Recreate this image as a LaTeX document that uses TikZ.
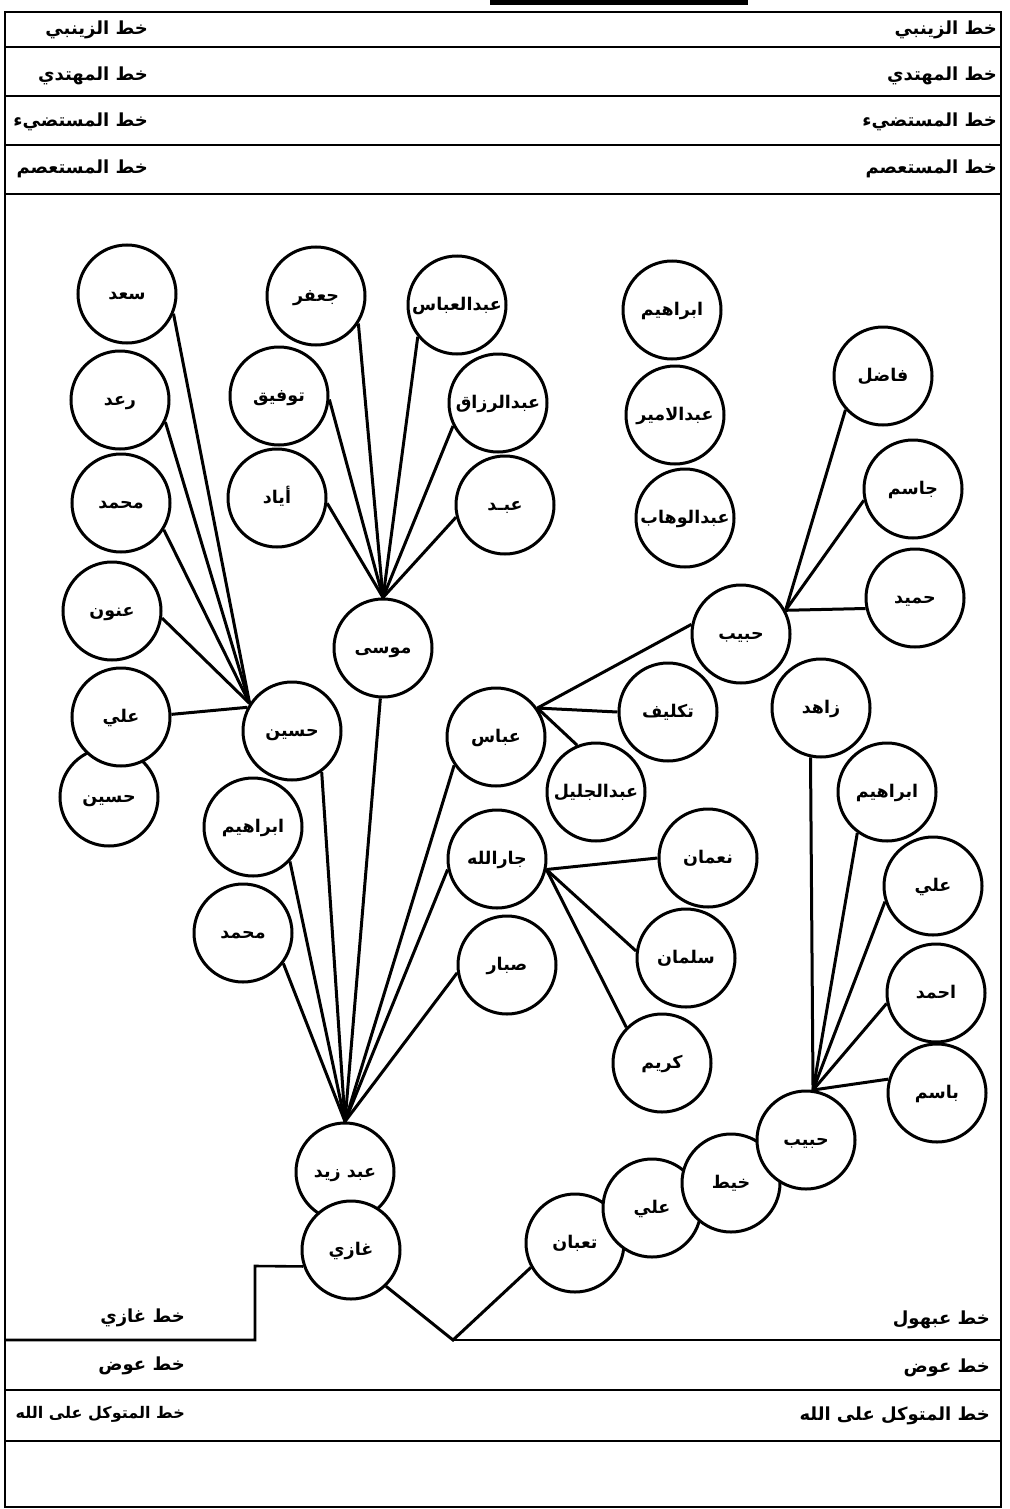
\documentclass[tikz,border=0pt]{standalone}
\usepackage{fontspec}
\newfontfamily\arabicfont[Script=Arabic]{DejaVu Sans}
\TeXXeTstate=1
\newcommand\artx[1]{\beginR #1\endR}
\begin{document}
\begin{tikzpicture}[x=1pt,y=-1pt,
  pers/.style={circle,draw,line width=3pt,fill=white,minimum size=98pt,inner sep=0pt,
    text height=10pt,text depth=0pt,
    font=\arabicfont\bfseries\fontsize{17.5}{20}\selectfont},
  conn/.style={line width=3pt},
  lab/.style={anchor=east,inner sep=0pt,font=\arabicfont\bfseries\fontsize{18}{21}\selectfont},
  smalllab/.style={lab,font=\arabicfont\bfseries\fontsize{16}{19}\selectfont},
  frame/.style={line width=2.6pt}]
\useasboundingbox (0,0) rectangle (1009,1509);
% frame and bands
\draw[frame] (5,12) rectangle (1001,1507);
\draw[line width=5pt] (490,3) -- (748,3);
\draw[frame] (5,47) -- (1001,47);
\draw[frame] (5,96) -- (1001,96);
\draw[frame] (5,145) -- (1001,145);
\draw[frame] (5,194) -- (1001,194);
\draw[frame] (5,1390) -- (1001,1390);
\draw[frame] (5,1441) -- (1001,1441);
% band labels
\node[lab] (l1) at (148,30) {\artx{خط الزينبي}};
\node[lab] (r1) at (997,30) {\artx{خط الزينبي}};
\node[lab] (l2) at (148,76) {\artx{خط المهتدي}};
\node[lab] (r2) at (997,76) {\artx{خط المهتدي}};
\node[lab] (l3) at (148,122) {\artx{خط المستضيء}};
\node[lab] (r3) at (997,122) {\artx{خط المستضيء}};
\node[lab] (l4) at (148,169) {\artx{خط المستعصم}};
\node[lab] (r4) at (997,169) {\artx{خط المستعصم}};
\node[lab] (l5) at (185,1318) {\artx{خط غازي}};
\node[lab] (r5) at (990,1320) {\artx{خط عبهول}};
\node[lab] (l6) at (185,1366) {\artx{خط عوض}};
\node[lab] (r6) at (990,1368) {\artx{خط عوض}};
\node[smalllab] (l7) at (185,1414) {\artx{خط المتوكل على الله}};
\node[lab] (r7) at (990,1416) {\artx{خط المتوكل على الله}};
% persons
\node[pers] (saad) at (127,294) {\artx{سعد}};
\node[pers] (raad) at (120,400) {\artx{رعد}};
\node[pers] (muhA) at (121,503) {\artx{محمد}};
\node[pers] (anun) at (112,611) {\artx{عنون}};
\node[pers] (husB) at (109,797) {\artx{حسين}};
\node[pers] (aliA) at (121,717) {\artx{علي}};
\node[pers] (jafar) at (316,296) {\artx{جعفر}};
\node[pers] (abbasA) at (457,305) {\artx{عبدالعباس}};
\node[pers] (tawfiq) at (279,396) {\artx{توفيق}};
\node[pers] (razzaq) at (498,403) {\artx{عبدالرزاق}};
\node[pers] (ayad) at (277,498) {\artx{أياد}};
\node[pers] (abd) at (505,505) {\artx{عبـد}};
\node[pers] (musa) at (383,648) {\artx{موسى}};
\node[pers] (hus) at (292,731) {\artx{حسين}};
\node[pers] (ibrA) at (253,827) {\artx{ابراهيم}};
\node[pers] (muhB) at (243,933) {\artx{محمد}};
\node[pers] (abbas) at (496,737) {\artx{عباس}};
\node[pers] (taklif) at (668,712) {\artx{تكليف}};
\node[pers] (jalil) at (596,792) {\artx{عبدالجليل}};
\node[pers] (jar) at (497,859) {\artx{جارالله}};
\node[pers] (numan) at (708,858) {\artx{نعمان}};
\node[pers] (salman) at (686,958) {\artx{سلمان}};
\node[pers] (sabbar) at (507,965) {\artx{صبار}};
\node[pers] (karim) at (662,1063) {\artx{كريم}};
\node[pers] (azayd) at (345,1172) {\artx{عبد زيد}};
\node[pers] (ghazi) at (351,1250) {\artx{غازي}};
\node[pers] (ibrB) at (672,310) {\artx{ابراهيم}};
\node[pers] (amir) at (675,415) {\artx{عبدالامير}};
\node[pers] (wahhab) at (685,518) {\artx{عبدالوهاب}};
\node[pers] (fadil) at (883,376) {\artx{فاضل}};
\node[pers] (jasim) at (913,489) {\artx{جاسم}};
\node[pers] (hamid) at (915,598) {\artx{حميد}};
\node[pers] (habibA) at (741,634) {\artx{حبيب}};
\node[pers] (zahid) at (821,708) {\artx{زاهد}};
\node[pers] (ibrC) at (887,792) {\artx{ابراهيم}};
\node[pers] (aliB) at (933,886) {\artx{علي}};
\node[pers] (ahmad) at (936,993) {\artx{احمد}};
\node[pers] (basim) at (937,1093) {\artx{باسم}};
\node[pers] (taban) at (575,1243) {\artx{تعبان}};
\node[pers] (aliC) at (652,1208) {\artx{علي}};
\node[pers] (khayt) at (731,1183) {\artx{خيط}};
\node[pers] (habibB) at (806,1140) {\artx{حبيب}};
% connectors: Husayn group
\draw[conn] (saad.-23) -- (hus.147);
\draw[conn] (raad.-26) -- (hus.147);
\draw[conn] (muhA.-32) -- (hus.147);
\draw[conn] (anun.-8) -- (hus.147);
\draw[conn] (aliA.3) -- (hus.152);
% Musa group
\draw[conn] (jafar.-33) -- (musa.north);
\draw[conn] (abbasA.219) -- (musa.north);
\draw[conn] (tawfiq.-4) -- (musa.north);
\draw[conn] (razzaq.207) -- (musa.north);
\draw[conn] (ayad.-6) -- (musa.north);
\draw[conn] (abd.194) -- (musa.north);
% Abd Zayd group
\draw[conn] (muhB.-37) -- (azayd.north);
\draw[conn] (ibrA.-43) -- (azayd.north);
\draw[conn] (hus.-54) -- (azayd.north);
\draw[conn] (musa.-93) -- (azayd.north);
\draw[conn] (abbas.214) -- (azayd.north);
\draw[conn] (jar.192) -- (azayd.north);
\draw[conn] (sabbar.189) -- (azayd.north);
% Abbas
\draw[conn] (habibA.169) -- (abbas.35);
\draw[conn] (abbas.35) -- (taklif.180);
\draw[conn] (abbas.35) -- (jalil.112);
% Jarallah
\draw[conn] (jar.-12) -- (numan.180);
\draw[conn] (jar.-12) -- (salman.172);
\draw[conn] (jar.-12) -- (karim.135);
% Habib (upper)
\draw[conn] (fadil.222) -- (habibA.28);
\draw[conn] (jasim.193) -- (habibA.28);
\draw[conn] (hamid.192) -- (habibA.28);
% Habib (lower)
\draw[conn] (zahid.-102) -- (habibB.82);
\draw[conn] (ibrC.234) -- (habibB.82);
\draw[conn] (aliB.198) -- (habibB.82);
\draw[conn] (ahmad.192) -- (habibB.82);
\draw[conn] (basim.164) -- (habibB.82);
% bottom lines
\coordinate (step) at (255,1266);
\coordinate (stepfoot) at (255,1340);
\coordinate (vtx) at (453,1340);
\draw[frame] (5,1340) -- (stepfoot) -- (step) -- (ghazi.199);
\draw[conn] (ghazi.-46) -- (vtx) -- (taban.209);
\draw[frame] (vtx) -- (1001,1340);
\end{tikzpicture}
\end{document}
